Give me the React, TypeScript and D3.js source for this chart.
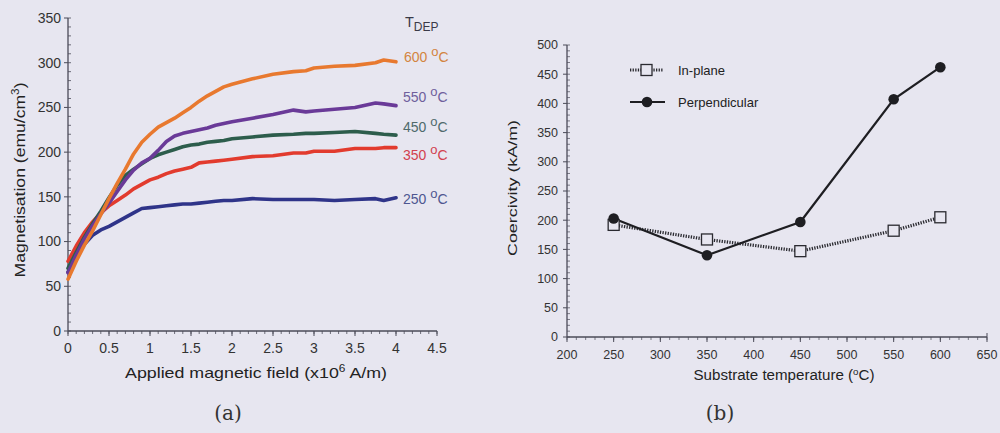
import * as d3 from 'd3'

// (a) magnetisation vs applied field, one series per deposition temperature
const fieldX = [0, 0.1, 0.2, 0.3, 0.4, 0.5, 0.6, 0.7, 0.8, 0.9, 1.0, 1.1, 1.2, 1.3, 1.4, 1.5, 1.6, 1.7, 1.8, 1.9, 2.0, 2.25, 2.5, 2.75, 2.9, 3.0, 3.25, 3.5, 3.75, 3.85, 4.0]
const mag600 = [58, 78, 96, 112, 130, 148, 165, 181, 198, 211, 220, 228, 233, 238, 244, 250, 257, 263, 268, 273, 276, 282, 287, 290, 291, 294, 296, 297, 300, 303, 301]
const mag550 = [65, 85, 103, 118, 131, 143, 156, 169, 180, 188, 193, 202, 212, 218, 221, 223, 225, 227, 230, 232, 234, 238, 242, 247, 245, 246, 248, 250, 255, 254, 252]
const mag450 = [70, 88, 105, 120, 134, 149, 163, 174, 181, 187, 193, 197, 200, 203, 206, 208, 209, 211, 212, 213, 215, 217, 219, 220, 221, 221, 222, 223, 221, 220, 219]
const mag350 = [78, 95, 110, 122, 132, 140, 146, 152, 159, 164, 169, 172, 176, 179, 181, 183, 188, 189, 190, 191, 192, 195, 196, 199, 199, 201, 201, 204, 204, 205, 205]
const mag250 = [66, 84, 97, 107, 113, 117, 122, 127, 132, 137, 138, 139, 140, 141, 142, 142, 143, 144, 145, 146, 146, 148, 147, 147, 147, 147, 146, 147, 148, 146, 149]
const tempLabels = ['600', '550', '450', '350', '250']

// (b) coercivity vs substrate temperature
const substrateT = [250, 350, 450, 550, 600]
const inPlane = [192, 167, 147, 182, 205]
const perpendicular = [203, 140, 197, 407, 462]

const bg = '#e7e6f0'
const axisCol = '#4b4b58'
const font = 'Liberation Sans, Arial, sans-serif'
const serif = 'DejaVu Serif, Liberation Serif, serif'

export default function App() {
  // left chart scales
  const xA = d3.scaleLinear().domain([0, 4.5]).range([68, 437])
  const yA = d3.scaleLinear().domain([0, 350]).range([331, 18])
  const lineA = d3
    .line<number>()
    .x((_, i) => xA(fieldX[i]))
    .y((d) => yA(d))

  const curves = [
    { vals: mag250, color: '#2f3489', label: tempLabels[4], labelColor: '#4e5690' },
    { vals: mag350, color: '#e23b2e', label: tempLabels[3], labelColor: '#d2414f' },
    { vals: mag450, color: '#2d5d4c', label: tempLabels[2], labelColor: '#4f6a6c' },
    { vals: mag550, color: '#6a3a98', label: tempLabels[1], labelColor: '#6f5f9c' },
    { vals: mag600, color: '#e8792f', label: tempLabels[0], labelColor: '#d3843f' },
  ]
  const labelY: Record<string, number> = { '600': 62, '550': 102, '450': 132, '350': 160, '250': 204 }

  // right chart scales
  const xB = d3.scaleLinear().domain([200, 650]).range([567, 987])
  const yB = d3.scaleLinear().domain([0, 500]).range([337, 45])
  const lineIn = d3
    .line<number>()
    .x((_, i) => xB(substrateT[i]))
    .y((d) => yB(d))

  const xTicksA = d3.range(0, 4.51, 0.5)
  const xMinorA = d3.range(0, 4.51, 0.1)
  const yTicksA = d3.range(0, 351, 50)
  const yMinorA = d3.range(0, 351, 10)
  const xTicksB = d3.range(200, 651, 50)
  const xMinorB = d3.range(200, 651, 10)
  const yTicksB = d3.range(0, 501, 50)
  const yMinorB = d3.range(0, 501, 10)

  return (
    <svg
      width={1000}
      height={433}
      style={{ position: 'absolute', left: 0, top: 0, background: bg }}
      fontFamily={font}
    >
      <rect width={1000} height={433} fill={bg} />

      {/* ---------- (a) ---------- */}
      <g>
        <line x1={xA(0)} x2={xA(0)} y1={yA(0)} y2={yA(350)} stroke={axisCol} strokeWidth={1.3} />
        <line x1={xA(0)} x2={xA(4.5)} y1={yA(0)} y2={yA(0)} stroke={axisCol} strokeWidth={1.3} />
        {yMinorA.map((v) => (
          <line key={'ym' + v} x1={xA(0)} x2={xA(0) + 3} y1={yA(v)} y2={yA(v)} stroke={axisCol} strokeWidth={0.8} />
        ))}
        {yTicksA.map((v) => (
          <g key={'yt' + v}>
            <line x1={xA(0) - 4} x2={xA(0)} y1={yA(v)} y2={yA(v)} stroke={axisCol} strokeWidth={1} />
            <text x={xA(0) - 7} y={yA(v)} dy="0.35em" textAnchor="end" fontSize={14} fill="#333">
              {v}
            </text>
          </g>
        ))}
        {xMinorA.map((v) => (
          <line key={'xm' + v} x1={xA(v)} x2={xA(v)} y1={yA(0)} y2={yA(0) + 3} stroke={axisCol} strokeWidth={0.8} />
        ))}
        {xTicksA.map((v) => (
          <g key={'xt' + v}>
            <line x1={xA(v)} x2={xA(v)} y1={yA(0)} y2={yA(0) + 5} stroke={axisCol} strokeWidth={1} />
            <text x={xA(v)} y={yA(0) + 22} textAnchor="middle" fontSize={14} fill="#333">
              {v}
            </text>
          </g>
        ))}
        <text x={256} y={378} textAnchor="middle" fontSize={15} fill="#222" textLength={262} lengthAdjust="spacingAndGlyphs">
          Applied magnetic field (x10<tspan dy={-6} fontSize={10}>6</tspan>
          <tspan dy={6}> A/m)</tspan>
        </text>
        <text
          transform="translate(25,180) rotate(-90)"
          textAnchor="middle"
          fontSize={15}
          fill="#222"
          textLength={195}
          lengthAdjust="spacingAndGlyphs"
        >
          Magnetisation (emu/cm<tspan dy={-6} fontSize={10}>3</tspan>
          <tspan dy={6}>)</tspan>
        </text>

        {curves.map((c) => (
          <path
            key={c.label}
            d={lineA(c.vals) || ''}
            fill="none"
            stroke={c.color}
            strokeWidth={3.6}
            strokeLinejoin="round"
            strokeLinecap="round"
          />
        ))}

        <text x={405} y={27} fontSize={14.5} fill="#3a3a48">
          T<tspan dy={4} fontSize={12}>DEP</tspan>
        </text>
        {curves.map((c) => (
          <text key={'l' + c.label} x={c.label === '600' ? 404 : 403} y={labelY[c.label]} fontSize={14} fill={c.labelColor}>
            {c.label + ' '}
            <tspan dy={-6} fontSize={13}>o</tspan>
            <tspan dy={6}>C</tspan>
          </text>
        ))}

        <text x={228} y={420} textAnchor="middle" fontSize={20} fill="#333" fontFamily={serif}>
          (a)
        </text>
      </g>

      {/* ---------- (b) ---------- */}
      <g>
        <line x1={xB(200)} x2={xB(200)} y1={yB(0)} y2={yB(500)} stroke={axisCol} strokeWidth={1.3} />
        <line x1={xB(200)} x2={xB(650)} y1={yB(0)} y2={yB(0)} stroke={axisCol} strokeWidth={1.3} />
        {yMinorB.map((v) => (
          <line key={'ym' + v} x1={xB(200)} x2={xB(200) + 3} y1={yB(v)} y2={yB(v)} stroke={axisCol} strokeWidth={0.7} />
        ))}
        {yTicksB.map((v) => (
          <g key={'yt' + v}>
            <line x1={xB(200) - 4} x2={xB(200)} y1={yB(v)} y2={yB(v)} stroke={axisCol} strokeWidth={1} />
            <text x={xB(200) - 9} y={yB(v)} dy="0.35em" textAnchor="end" fontSize={12.5} fill="#333">
              {v}
            </text>
          </g>
        ))}
        {xMinorB.map((v) => (
          <line key={'xm' + v} x1={xB(v)} x2={xB(v)} y1={yB(0)} y2={yB(0) + 3} stroke={axisCol} strokeWidth={0.7} />
        ))}
        {xTicksB.map((v) => (
          <g key={'xt' + v}>
            <line x1={xB(v)} x2={xB(v)} y1={yB(0) - (v === 650 ? 4 : 0)} y2={yB(0) + 5} stroke={axisCol} strokeWidth={1} />
            <text x={xB(v)} y={yB(0) + 22} textAnchor="middle" fontSize={12.5} fill="#333">
              {v}
            </text>
          </g>
        ))}
        <text x={784} y={380} textAnchor="middle" fontSize={14} fill="#222" textLength={181} lengthAdjust="spacingAndGlyphs">
          Substrate temperature (<tspan dy={-5} fontSize={9}>o</tspan>
          <tspan dy={5}>C)</tspan>
        </text>
        <text
          transform="translate(517,188) rotate(-90)"
          textAnchor="middle"
          fontSize={13.5}
          fill="#222"
          textLength={136}
          lengthAdjust="spacingAndGlyphs"
        >
          Coercivity (kA/m)
        </text>

        {/* in-plane: dotted line with open squares */}
        <path
          d={lineIn(inPlane) || ''}
          fill="none"
          stroke="#2a2a30"
          strokeWidth={3.2}
          strokeDasharray="1.3,1.3"
        />
        {/* perpendicular: solid line with filled circles */}
        <path d={lineIn(perpendicular) || ''} fill="none" stroke="#1e1e22" strokeWidth={2.2} />
        {substrateT.map((t, i) => (
          <rect
            key={'sq' + t}
            x={xB(t) - 5.5}
            y={yB(inPlane[i]) - 5.5}
            width={11}
            height={11}
            fill={bg}
            stroke="#2a2a30"
            strokeWidth={1.3}
          />
        ))}
        {substrateT.map((t, i) => (
          <circle key={'ci' + t} cx={xB(t)} cy={yB(perpendicular[i])} r={5.3} fill="#1e1e22" />
        ))}

        {/* legend */}
        <line x1={630} x2={663} y1={70} y2={70} stroke="#2a2a30" strokeWidth={3.2} strokeDasharray="1.3,1.3" />
        <rect x={641} y={64.5} width={11} height={11} fill={bg} stroke="#2a2a30" strokeWidth={1.3} />
        <text x={678} y={70} dy="0.35em" fontSize={13} fill="#222">
          In-plane
        </text>
        <line x1={630} x2={665} y1={102} y2={102} stroke="#1e1e22" strokeWidth={2.2} />
        <circle cx={647} cy={102} r={5.3} fill="#1e1e22" />
        <text x={678} y={102} dy="0.35em" fontSize={13} fill="#222">
          Perpendicular
        </text>

        <text x={720} y={420} textAnchor="middle" fontSize={20} fill="#333" fontFamily={serif}>
          (b)
        </text>
      </g>
    </svg>
  )
}
